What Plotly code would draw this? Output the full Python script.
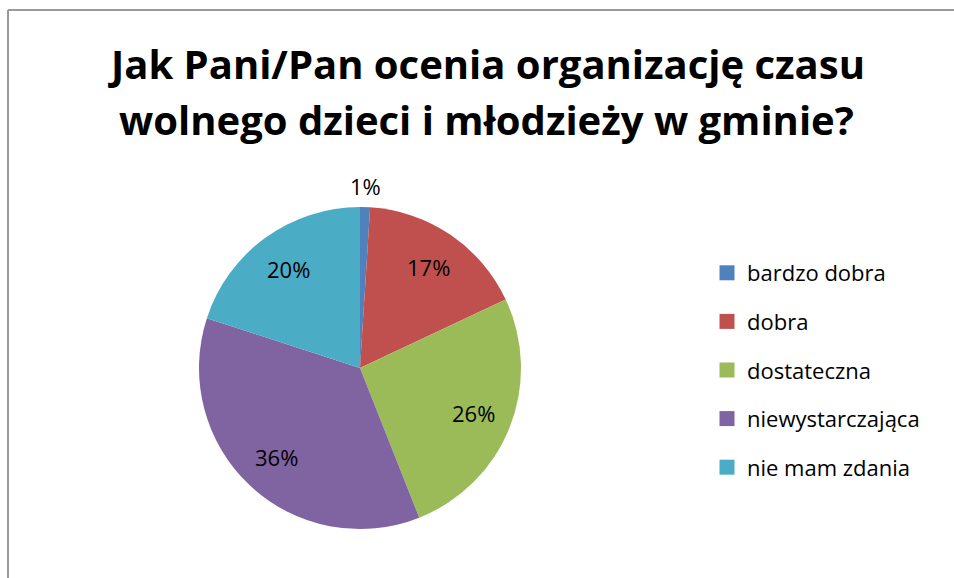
import math
import plotly.graph_objects as go

# Survey answers and their shares (%)
categories = ["bardzo dobra", "dobra", "dostateczna", "niewystarczająca", "nie mam zdania"]
shares = [1, 17, 26, 36, 20]
colors = ["#4F81BD", "#C0504D", "#9BBB59", "#8064A2", "#4BACC6"]
title_lines = ["Jak Pani/Pan ocenia organizację czasu", "wolnego dzieci i młodzieży w gminie?"]

W, H = 954, 578
FONT = "'Open Sans', Lato, sans-serif"

# Pie placement in pixels (centre and radius)
CX, CY, R = 360, 368, 161
dom_x = [(CX - R) / W, (CX + R) / W]
dom_y = [1 - (CY + R) / H, 1 - (CY - R) / H]

fig = go.Figure()
fig.add_trace(go.Pie(
    labels=categories,
    values=shares,
    sort=False,
    direction="clockwise",
    rotation=0,
    marker=dict(colors=colors, line=dict(width=0)),
    textinfo="none",
    hoverinfo="label+percent",
    showlegend=False,
    domain=dict(x=dom_x, y=dom_y),
))

# Legend entries (one per category) so the item spacing can be set
for name, col in zip(categories, colors):
    fig.add_trace(go.Scatter(
        x=[None], y=[None], mode="markers", name=name, legendgroup=name,
        marker=dict(symbol="square", size=15, color=col),
    ))

# Percentage labels placed along each slice's mid-angle
total = sum(shares)
annotations = []
cum = 0.0
for v in shares:
    mid = (cum + v / 2) / total * 2 * math.pi
    cum += v
    rf = 1.13 if v / total < 0.05 else 0.76
    px = CX + rf * R * math.sin(mid)
    py = CY - rf * R * math.cos(mid)
    annotations.append(dict(
        x=px / W, y=1 - py / H, xref="paper", yref="paper",
        text=f"{round(v / total * 100)}%", showarrow=False,
        font=dict(family=FONT, size=22, color="#000000"),
        xanchor="center", yanchor="middle",
    ))

# Two-line chart title
for i, line in enumerate(title_lines):
    annotations.append(dict(
        x=487 / W, y=1 - (63 + 57 * i) / H, xref="paper", yref="paper",
        text=f"<b>{line}</b>", showarrow=False,
        font=dict(family=FONT, size=40, color="#000000"),
        xanchor="center", yanchor="middle",
    ))

fig.update_layout(
    width=W, height=H,
    margin=dict(l=0, r=0, t=0, b=0),
    paper_bgcolor="white", plot_bgcolor="white",
    xaxis=dict(visible=False), yaxis=dict(visible=False),
    annotations=annotations,
    legend=dict(
        x=707 / W, y=1 - 252 / H, xanchor="left", yanchor="top",
        font=dict(family=FONT, size=22, color="#000000"),
        tracegroupgap=17, itemwidth=30, traceorder="grouped",
        bgcolor="rgba(0,0,0,0)",
    ),
    shapes=[
        dict(type="line", xref="paper", yref="paper", x0=8 / W, x1=1, y0=1 - 10 / H, y1=1 - 10 / H,
             line=dict(color="#9a9a9a", width=2)),
        dict(type="line", xref="paper", yref="paper", x0=8 / W, x1=8 / W, y0=0, y1=1 - 10 / H,
             line=dict(color="#9a9a9a", width=2)),
    ],
)

fig.write_html("out.html")
